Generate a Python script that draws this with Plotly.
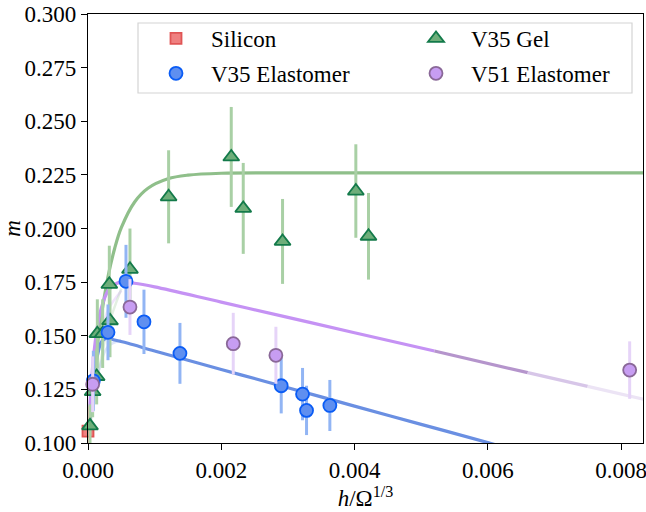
import plotly.graph_objects as go

# ---------------- data ----------------
si_x = [0.0]
si_y = [0.1055]
si_e = [0.0115]

gel_x = [0.00003, 0.00007, 0.00013, 0.00014, 0.00022, 0.00033, 0.00032, 0.00063,
         0.00121, 0.00215, 0.00233, 0.00292, 0.00402, 0.00421]
gel_y = [0.108, 0.124, 0.131, 0.151, 0.151, 0.157, 0.174, 0.181,
         0.2148, 0.2334, 0.2094, 0.194, 0.2175, 0.1964]
gel_e = [0.010, 0.012, 0.013, 0.016, 0.016, 0.017, 0.018, 0.019,
         0.0217, 0.0233, 0.0212, 0.0198, 0.0218, 0.0202]

v35_x = [0.00008, 0.00030, 0.00057, 0.00084, 0.00138, 0.00290, 0.00322, 0.00328, 0.00363]
v35_y = [0.129, 0.1516, 0.1754, 0.1565, 0.1418, 0.1267, 0.1228, 0.1152, 0.1175]
v35_e = [0.014, 0.013, 0.017, 0.015, 0.0142, 0.0129, 0.0122, 0.0115, 0.0119]

v51_x = [0.00007, 0.00063, 0.00218, 0.00282, 0.00813]
v51_y = [0.1274, 0.1634, 0.1463, 0.1409, 0.134]
v51_e = [0.013, 0.013, 0.0144, 0.0133, 0.0134]

# fitted curves
gel_fit_x = [0, 0.00005, 0.0001, 0.00015, 0.0002, 0.0003, 0.0004, 0.0005, 0.0007,
             0.0009, 0.0012, 0.0015, 0.002, 0.003, 0.00835]
gel_fit_y = [0.100, 0.1185, 0.1344, 0.1479, 0.1594, 0.1775, 0.1907, 0.2004, 0.2124,
             0.2188, 0.2232, 0.2249, 0.2258, 0.2260, 0.2260]

v35_fit_x = [0, 0.00005, 0.0001, 0.00015, 0.0002, 0.00028, 0.0004, 0.0006, 0.001,
             0.002, 0.003, 0.004, 0.005, 0.006, 0.0062]
v35_fit_y = [0.100, 0.120, 0.134, 0.142, 0.147, 0.149, 0.148, 0.1465, 0.1429,
             0.1343, 0.1258, 0.1172, 0.1087, 0.1002, 0.0984]

v51_fit_x = [0, 0.00005, 0.0001, 0.00015, 0.0002, 0.0003, 0.0004, 0.0005, 0.0007,
             0.001, 0.002, 0.003, 0.004, 0.0052]
v51_fit_y = [0.100, 0.128, 0.145, 0.156, 0.163, 0.171, 0.174, 0.175, 0.1745,
             0.1728, 0.1657, 0.1586, 0.1514, 0.1429]
# fading tail of the V51 curve
v51_tail_x = [[0.0052, 0.0066], [0.0066, 0.0075], [0.0075, 0.00835]]
v51_tail_y = [[0.1429, 0.1328], [0.1328, 0.1264], [0.1264, 0.1203]]
v51_tail_c = ["#b595cc", "#d7c6e8", "#ece4f5"]

# faint alternative fits near the origin
faint_x = [0, 0.0001, 0.0002, 0.0003, 0.0005]
faint_v51_y = [0.100, 0.130, 0.150, 0.162, 0.171]
faint_v35_y = [0.100, 0.125, 0.138, 0.145, 0.148]
faint_gel_y = [0.100, 0.122, 0.140, 0.154, 0.172]

x_ticks = [0.000, 0.002, 0.004, 0.006, 0.008]
x_ticktext = ["0.000", "0.002", "0.004", "0.006", "0.008"]
y_ticks = [0.100, 0.125, 0.150, 0.175, 0.200, 0.225, 0.250, 0.275, 0.300]
y_ticktext = ["0.100", "0.125", "0.150", "0.175", "0.200", "0.225", "0.250", "0.275", "0.300"]

FONT = "Liberation Serif"
FS = 23

fig = go.Figure()

# faint curves
for fy, fc in [(faint_gel_y, "rgba(143,191,138,0.25)"), (faint_v35_y, "rgba(106,143,226,0.22)"),
               (faint_v51_y, "rgba(197,146,244,0.25)")]:
    fig.add_trace(go.Scatter(x=faint_x, y=fy, mode="lines", line=dict(color=fc, width=2.5, shape="spline"),
                             showlegend=False, hoverinfo="skip"))

# curves
fig.add_trace(go.Scatter(x=gel_fit_x, y=gel_fit_y, mode="lines", line=dict(color="#8fbf8a", width=3.2, shape="spline"),
                         showlegend=False, hoverinfo="skip"))
fig.add_trace(go.Scatter(x=v35_fit_x, y=v35_fit_y, mode="lines", line=dict(color="#6a8fe2", width=3.2, shape="spline"),
                         showlegend=False, hoverinfo="skip"))
fig.add_trace(go.Scatter(x=v51_fit_x, y=v51_fit_y, mode="lines", line=dict(color="#c592f4", width=3.2, shape="spline"),
                         showlegend=False, hoverinfo="skip"))
for tx, ty, tc in zip(v51_tail_x, v51_tail_y, v51_tail_c):
    fig.add_trace(go.Scatter(x=tx, y=ty, mode="lines", line=dict(color=tc, width=3.2),
                             showlegend=False, hoverinfo="skip"))

# data series
def add_series(name, x, y, e, symbol, face, edge, ecolor, size, legend, group, lw=1.8):
    fig.add_trace(go.Scatter(
        x=x, y=y, mode="markers", name=name, cliponaxis=False, legend=legend, legendgroup=group,
        marker=dict(symbol=symbol, size=size, color=face, line=dict(color=edge, width=lw)),
        error_y=dict(type="data", array=e, visible=True, color=ecolor, thickness=3, width=0),
    ))

add_series("Silicon", si_x, si_y, si_e, "square", "#ef8080", "#e05555", "#f5b0b0", 11, "legend", "a")
add_series("V35 Gel", gel_x, gel_y, gel_e, "triangle-up", "#6eae7a", "#137a4a", "#a9d0a5", 14, "legend2", "b")
add_series("V35 Elastomer", v35_x, v35_y, v35_e, "circle", "#5f8ff0", "#0a5cf5", "#92b5f4", 13, "legend", "c")
add_series("V51 Elastomer", v51_x, v51_y, v51_e, "circle", "#c79df2", "#8a6898", "#e6d4f8", 13, "legend2", "d")

axis_common = dict(
    showline=True, linecolor="black", linewidth=1.3, mirror=True,
    ticks="outside", ticklen=6, tickwidth=1.3, tickcolor="black",
    showgrid=False, zeroline=False, ticklabeloverflow="allow", automargin=False,
    tickfont=dict(family=FONT, size=FS, color="black"),
)

TOP = 14
# plot area in pixels: x 88..643, y TOP..443
def px_x(p):
    return (p - 88) / 555.0

def px_y(p):
    return (443 - p) / (443.0 - TOP)

legend_common = dict(orientation="v", xanchor="left", yanchor="top", itemwidth=60,
                     bgcolor="rgba(0,0,0,0)", borderwidth=0,
                     font=dict(family=FONT, size=FS, color="black"), tracegroupgap=2)

fig.update_layout(
    width=646, height=512,
    margin=dict(l=88, r=3, t=TOP, b=69, autoexpand=False),
    paper_bgcolor="white", plot_bgcolor="white",
    xaxis=dict(range=[0, 0.00833], tickmode="array", tickvals=x_ticks, ticktext=x_ticktext,
               title=dict(text="<i>h</i>/Ω<sup>1/3</sup>", font=dict(family=FONT, size=FS, color="black"), standoff=2),
               **axis_common),
    yaxis=dict(range=[0.1, 0.30005], tickmode="array", tickvals=y_ticks, ticktext=y_ticktext,
               title=dict(text="<i>m</i>", font=dict(family=FONT, size=FS, color="black"), standoff=6),
               **axis_common),
    legend=dict(x=px_x(141), y=px_y(17), **legend_common),
    legend2=dict(x=px_x(401), y=px_y(17), **legend_common),
    shapes=[dict(type="rect", xref="paper", yref="paper", layer="above",
                 x0=px_x(138), x1=px_x(632), y0=px_y(93), y1=px_y(23),
                 fillcolor="rgba(255,255,255,0.85)", line=dict(color="#d4d4d4", width=1.2))],
    showlegend=True,
)

fig.write_html("out.html")
